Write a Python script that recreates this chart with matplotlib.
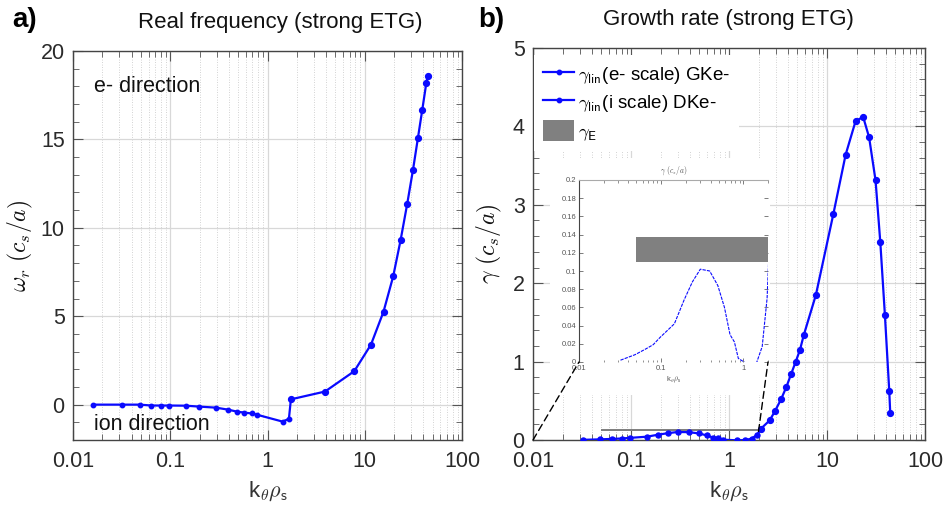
import numpy as np
import matplotlib
matplotlib.use("Agg")
import matplotlib.pyplot as plt
from matplotlib.ticker import MultipleLocator, NullFormatter, FixedLocator, FixedFormatter, LogLocator
from matplotlib.patches import Rectangle, ConnectionPatch, Patch
from matplotlib.lines import Line2D

plt.rcParams['font.family'] = ['Liberation Sans', 'DejaVu Sans']
plt.rcParams['mathtext.fontset'] = 'cm'

# ---------------- data ----------------
# panel a: real frequency
k_a_ion = [0.0161, 0.032, 0.0486, 0.064, 0.08, 0.097, 0.145, 0.197, 0.295, 0.39, 0.49, 0.58, 0.69, 0.78, 1.43, 1.66]
w_a_ion = [0.0, 0.0, 0.0, -0.05, -0.05, -0.05, -0.06, -0.11, -0.17, -0.28, -0.4, -0.45, -0.5, -0.57, -0.96, -0.8]
k_a_e = [1.74, 3.9, 7.8, 11.6, 15.6, 19.6, 23.4, 27.3, 31.3, 35.2, 39, 42.9, 44.3]
w_a_e = [0.3, 0.74, 1.89, 3.4, 5.26, 7.25, 9.32, 11.34, 13.26, 15.07, 16.66, 18.17, 18.58]

# panel b: growth rate
k_b_ion = [0.032, 0.048, 0.064, 0.08, 0.097, 0.145, 0.19, 0.24, 0.3, 0.39, 0.49, 0.59, 0.69, 0.78, 0.87, 1.2, 1.45, 1.7, 1.95]
g_b_ion = [0.002, 0.008, 0.014, 0.019, 0.027, 0.042, 0.068, 0.088, 0.102, 0.1, 0.084, 0.06, 0.03, 0.022, 0.004, -0.004, -0.001, 0.017, 0.07]
k_b_e = [2.1, 2.6, 2.95, 3.4, 3.86, 4.3, 4.8, 5.3, 5.8, 7.7, 11.6, 15.5, 19.6, 23.4, 26.9, 31.3, 35, 39, 43.2, 44.2]
g_b_e = [0.14, 0.25, 0.37, 0.52, 0.68, 0.84, 1.0, 1.15, 1.34, 1.85, 2.88, 3.64, 4.07, 4.12, 3.86, 3.31, 2.52, 1.59, 0.62, 0.34]

# E x B shearing rate band
gammaE_k = [0.05, 2.0]
gammaE_lo = 0.11
gammaE_hi = 0.137

xticks = [0.01, 0.1, 1, 10, 100]
xticklabels = ['0.01', '0.1', '1', '10', '100']
yticks_a = [0, 5, 10, 15, 20]
yticks_b = [0, 1, 2, 3, 4, 5]
inset_xticks = [0.01, 0.1, 1]
inset_xticklabels = ['0.01', '0.1', '1']
inset_yticks = [0, 0.02, 0.04, 0.06, 0.08, 0.1, 0.12, 0.14, 0.16, 0.18, 0.2]
inset_yticklabels = ['0', '0.02', '0.04', '0.06', '0.08', '0.1', '0.12', '0.14', '0.16', '0.18', '0.2']

legend_labels = [r'$\gamma_{\mathsf{lin}}$(e- scale) GKe-', r'$\gamma_{\mathsf{lin}}$(i scale) DKe-', r'$\gamma_{\mathsf{E}}$']

BLUE = '#0a0aff'
GREY = '#808080'

W, H = 949, 513
fig = plt.figure(figsize=(W / 100, H / 100), dpi=100)

def px_rect(x0, y0, x1, y1):
    return [x0 / W, 1 - y1 / H, (x1 - x0) / W, (y1 - y0) / H]

ax1 = fig.add_axes(px_rect(73, 51, 462, 440))
ax2 = fig.add_axes(px_rect(533, 48, 925, 440))

def style(ax, yminor):
    ax.set_xscale('log')
    ax.set_xlim(0.01, 100)
    ax.xaxis.set_major_locator(FixedLocator(xticks))
    ax.xaxis.set_major_formatter(FixedFormatter(xticklabels))
    ax.xaxis.set_minor_locator(LogLocator(base=10, subs=np.arange(2, 10)))
    ax.xaxis.set_minor_formatter(NullFormatter())
    ax.yaxis.set_minor_locator(MultipleLocator(yminor))
    ax.tick_params(which='both', direction='in', top=True, right=True,
                   labelsize=15.5, labelcolor='#2a2a2a', color='#555555')
    ax.tick_params(which='major', length=7, width=0.8)
    ax.tick_params(which='minor', length=4, width=0.6)
    ax.tick_params(axis='x', pad=8)
    ax.tick_params(axis='y', pad=6)
    ax.grid(which='major', axis='both', color='#d8d8d8', lw=0.9)
    ax.grid(which='minor', axis='x', color='#c4c4c4', lw=0.6, ls=(0, (1, 2)))
    ax.set_axisbelow(True)
    for s in ax.spines.values():
        s.set_color('#444444')
        s.set_linewidth(1.0)

xlabel_txt = r'k$_{\theta}\rho_{\mathsf{s}}$'

# ---------------- panel a ----------------
style(ax1, 1)
ax1.set_ylim(-2, 20)
ax1.set_yticks(yticks_a)
ax1.set_yticklabels([str(v) for v in yticks_a])
ax1.plot(k_a_ion + k_a_e, w_a_ion + w_a_e, color=BLUE, lw=1.6, zorder=3)
ax1.plot(k_a_ion, w_a_ion, ls='none', marker='o', ms=3.2, color=BLUE, zorder=4)
ax1.plot(k_a_e, w_a_e, ls='none', marker='o', ms=4.2, color=BLUE, zorder=4)
ax1.text(0.0163, 18.0, 'e- direction', fontsize=15.5, va='center', ha='left', color='#111111')
ax1.text(0.0163, -1.1, 'ion direction', fontsize=15.5, va='center', ha='left', color='#111111')
ax1.set_xlabel(xlabel_txt, fontsize=16, labelpad=5, color='#333333')
ax1.set_ylabel(r'$\omega_r\ (c_s/a)$', fontsize=17, labelpad=4, color='#111111')

# ---------------- panel b ----------------
style(ax2, 0.2)
ax2.set_ylim(0, 5)
ax2.set_yticks(yticks_b)
ax2.set_yticklabels([str(v) for v in yticks_b])
ax2.fill_between(gammaE_k, gammaE_lo, gammaE_hi, color=GREY, lw=0, zorder=2)
ax2.plot(k_b_ion + k_b_e, g_b_ion + g_b_e, color=BLUE, lw=1.6, zorder=3)
ax2.plot(k_b_ion, g_b_ion, ls='none', marker='o', ms=3.6, color=BLUE, zorder=4)
ax2.plot(k_b_e, g_b_e, ls='none', marker='o', ms=4.2, color=BLUE, zorder=4)
ax2.set_xlabel(xlabel_txt, fontsize=16, labelpad=5, color='#333333')
ax2.set_ylabel(r'$\gamma\ (c_s/a)$', fontsize=17, labelpad=6, color='#111111')

h1 = Line2D([], [], color=BLUE, lw=1.6, marker='o', ms=3.2)
h2 = Line2D([], [], color=BLUE, lw=1.6, marker='o', ms=3.2)
h3 = Patch(facecolor=GREY, edgecolor='none')
leg = ax2.legend([h1, h2, h3], legend_labels, loc='upper left', bbox_to_anchor=(0.003, 0.982),
                 fontsize=13.5, frameon=True, facecolor='white', edgecolor='none', framealpha=1,
                 fancybox=False, handlelength=1.7, handleheight=1.33, handletextpad=0.2,
                 labelspacing=0.3, borderpad=0.45, borderaxespad=0, numpoints=1)
leg.set_zorder(10)

# white background behind the inset
fig.add_artist(Rectangle((550 / W, 1 - 395 / H), 220 / W, (395 - 158) / H, transform=fig.transFigure,
                         facecolor='white', edgecolor='none', zorder=1.5))

# ---------------- inset ----------------
ins = fig.add_axes(px_rect(579, 180, 768, 362))
ins.set_zorder(3)
ins.set_facecolor('white')
ins.set_xscale('log')
ins.set_xlim(0.01, 2.0)
ins.set_ylim(0, 0.2)
ins.xaxis.set_major_locator(FixedLocator(inset_xticks))
ins.xaxis.set_major_formatter(FixedFormatter(inset_xticklabels))
ins.xaxis.set_minor_locator(LogLocator(base=10, subs=np.arange(2, 10)))
ins.xaxis.set_minor_formatter(NullFormatter())
ins.yaxis.set_major_locator(FixedLocator(inset_yticks))
ins.yaxis.set_major_formatter(FixedFormatter(inset_yticklabels))
ins.tick_params(which='both', direction='in', top=True, right=True, labelsize=5.5,
                labelcolor='#555555', color='#666666', pad=2)
ins.tick_params(which='major', length=3, width=0.6)
ins.tick_params(which='minor', length=1.8, width=0.5)
ins.spines['top'].set_color('#aaaaaa')
ins.spines['top'].set_linewidth(0.8)
ins.spines['left'].set_color('#444444')
ins.spines['left'].set_linewidth(0.8)
ins.spines['bottom'].set_visible(False)
ins.spines['right'].set_visible(False)
ins.fill_between(gammaE_k, gammaE_lo, gammaE_hi, color=GREY, lw=0, zorder=2)
ins.plot(k_b_ion + k_b_e, g_b_ion + g_b_e, color=BLUE, lw=0.8, ls=(0, (3, 1)), zorder=3)
ins.set_title(r'$\gamma\ (c_s/a)$', fontsize=5.5, pad=5, color='#555555')
ins.set_xlabel(xlabel_txt, fontsize=5.5, labelpad=2, color='#555555')

# zoom connector lines
con1 = ConnectionPatch(xyA=(0.01, 0), coordsA=ax2.transData, xyB=(0, 0), coordsB=ins.transAxes,
                       color='black', lw=1.0, ls=(0, (5, 3)))
con2 = ConnectionPatch(xyA=(2.0, 0.11), coordsA=ax2.transData, xyB=(1, 0), coordsB=ins.transAxes,
                       color='black', lw=1.0, ls=(0, (5, 3)))
con1.set_zorder(4)
con2.set_zorder(4)
fig.add_artist(con1)
fig.add_artist(con2)

# titles and panel labels
fig.text(280 / W, 1 - 23 / H, 'Real frequency (strong ETG)', fontsize=16, ha='center', va='center', color='#111111')
fig.text(728 / W, 1 - 20 / H, 'Growth rate (strong ETG)', fontsize=16, ha='center', va='center', color='#111111')
fig.text(12 / W, 1 - 20 / H, 'a)', fontsize=20, fontweight='bold', ha='left', va='center')
fig.text(478 / W, 1 - 20 / H, 'b)', fontsize=20, fontweight='bold', ha='left', va='center')

fig.savefig('out.png', dpi=100, facecolor='white')
